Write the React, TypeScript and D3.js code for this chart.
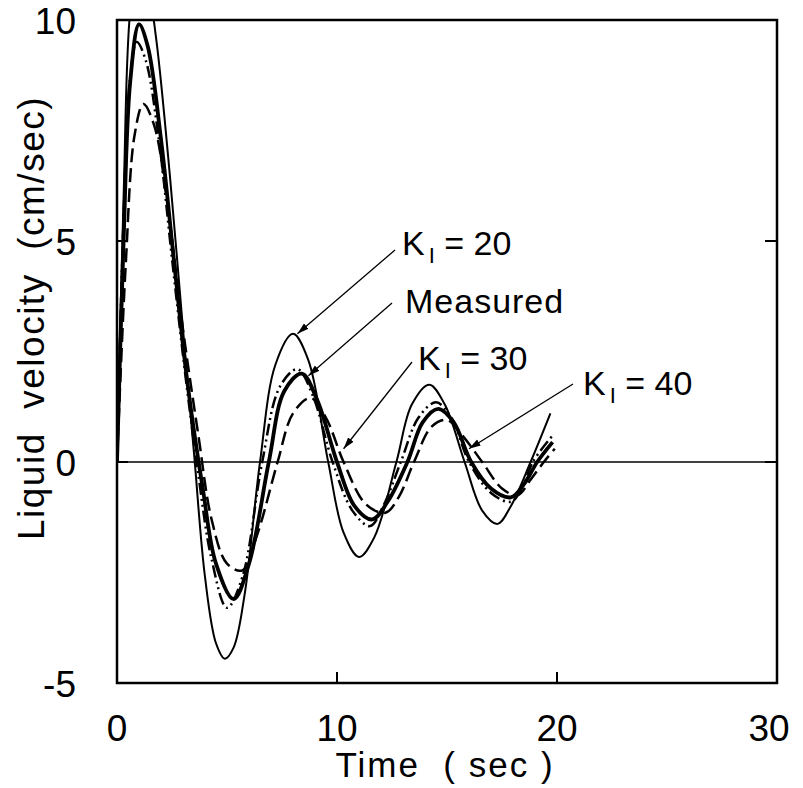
import React from 'react';
import * as d3 from 'd3';

// values (time in sec, velocity in cm/sec)
const tMeasured = [0, 0.3, 0.6, 1.0, 1.4, 2.0, 2.6, 3.2, 3.9, 4.5, 5.3, 6.0, 6.9, 7.6, 8.4, 9.1, 10.0, 10.8, 11.6, 12.3, 13.2, 13.9, 14.6, 15.3, 16.1, 17.0, 17.9, 18.5, 19.1, 19.8];
const vMeasured = [0, 5.0, 8.6, 9.9, 9.4, 7.3, 4.5, 1.8, -0.6, -2.3, -3.1, -2.3, 0, 1.6, 2.0, 1.4, 0, -1.0, -1.3, -0.9, 0, 0.9, 1.2, 0.9, 0, -0.6, -0.8, -0.5, 0, 0.45];

const tK20 = [0, 0.3, 0.6, 1.0, 1.4, 1.8, 2.4, 3.0, 3.5, 4.0, 4.5, 4.9, 5.3, 5.8, 6.5, 7.2, 8.0, 8.7, 9.6, 10.3, 11.0, 11.7, 12.7, 13.4, 14.2, 14.9, 15.8, 16.6, 17.3, 17.9, 18.8, 19.7];
const vK20 = [0, 6.0, 10.2, 11.4, 10.8, 9.5, 6.5, 3.0, 0.2, -2.6, -4.1, -4.45, -4.2, -3.0, 0, 2.2, 2.9, 2.3, 0, -1.6, -2.15, -1.7, 0, 1.3, 1.75, 1.3, 0, -1.1, -1.4, -1.0, 0, 1.1];

const tK30 = [0, 0.3, 0.6, 0.9, 1.3, 1.9, 2.5, 3.1, 3.7, 4.3, 5.0, 5.7, 6.6, 7.4, 8.2, 8.9, 9.8, 10.7, 11.5, 12.1, 12.9, 13.7, 14.5, 15.2, 16.0, 17.0, 17.9, 18.4, 18.9, 19.8];
const vK30 = [0, 5.5, 8.7, 9.5, 9.1, 7.3, 4.6, 2.0, -0.3, -2.2, -3.3, -2.6, 0, 1.7, 2.1, 1.5, 0, -1.1, -1.45, -1.0, 0, 1.0, 1.35, 1.0, 0, -0.7, -0.9, -0.6, 0, 0.6];

const tK40 = [0, 0.4, 0.8, 1.2, 1.7, 2.3, 3.0, 3.7, 4.3, 5.0, 5.7, 6.4, 7.3, 8.0, 8.8, 9.5, 10.3, 11.3, 12.2, 12.8, 13.5, 14.3, 15.0, 15.7, 16.6, 17.5, 18.2, 18.8, 19.4, 19.9];
const vK40 = [0, 4.5, 7.4, 8.1, 7.6, 5.8, 3.0, 0.6, -1.3, -2.3, -2.45, -1.6, 0, 1.1, 1.45, 1.0, 0, -0.95, -1.15, -0.8, 0, 0.8, 0.95, 0.6, 0, -0.6, -0.75, -0.4, 0, 0.3];

const xTicks = [0, 10, 20, 30];
const yTicks = [-5, 0, 5, 10];

const W = 803;
const H = 788;
const FONT = '"Liberation Sans", Arial, sans-serif';

const x = d3.scaleLinear().domain([0, 30]).range([117, 777]);
const y = d3.scaleLinear().domain([-5, 10]).range([683, 20]);

const zip = (ts: number[], vs: number[]) => ts.map((t, i) => [t, vs[i]] as [number, number]);

const line = d3.line<[number, number]>()
  .x((d) => x(d[0]))
  .y((d) => y(d[1]))
  .curve(d3.curveCatmullRom.alpha(0.5));

const series = [
  { key: 'k20', data: zip(tK20, vK20), width: 2, dash: null },
  { key: 'k40', data: zip(tK40, vK40), width: 2.5, dash: '14 6' },
  { key: 'k30', data: zip(tK30, vK30), width: 2.5, dash: '12 4 2 4 2 4' },
  { key: 'meas', data: zip(tMeasured, vMeasured), width: 3.8, dash: null },
];

// annotation labels, leader from label to a point on the curve
const notes = [
  { sub: '20', tx: 402, ty: 255, from: [395, 250], to: [x(8.2), y(2.9)] },
  { sub: null, tx: 405, ty: 313, from: [392, 303], to: [x(8.7), y(1.95)] },
  { sub: '30', tx: 418, ty: 370, from: [412, 362], to: [x(10.3), y(0.3)] },
  { sub: '40', tx: 583, ty: 395, from: [573, 384], to: [x(16.0), y(0.3)] },
];

export default function App() {
  const [x0, x1] = x.range();
  const [y0, y1] = y.range();
  return (
    <svg width={W} height={H} style={{ position: 'absolute', left: 0, top: 0, background: '#fff' }}>
      <defs>
        <clipPath id="plot">
          <rect x={x0} y={y1} width={x1 - x0} height={y0 - y1} />
        </clipPath>
        <marker id="arr" viewBox="0 0 10 10" refX="10" refY="5" markerWidth="9" markerHeight="9" orient="auto">
          <path d="M0,2 L10,5 L0,8 Z" fill="#000" />
        </marker>
      </defs>

      {/* zero line */}
      <line x1={x0} x2={x1} y1={y(0)} y2={y(0)} stroke="#000" strokeWidth={1.6} />

      <g clipPath="url(#plot)" fill="none" stroke="#000" strokeLinejoin="round">
        {series.map((s) => (
          <path key={s.key} d={line(s.data) || ''} strokeWidth={s.width}
            strokeDasharray={s.dash || undefined} />
        ))}
      </g>

      {/* frame */}
      <rect x={x0} y={y1} width={x1 - x0} height={y0 - y1} fill="none" stroke="#000" strokeWidth={2.5} />

      {/* inward ticks */}
      {xTicks.slice(1, -1).map((t) => (
        <line key={'xt' + t} x1={x(t)} x2={x(t)} y1={y0} y2={y0 - 11} stroke="#000" strokeWidth={2} />
      ))}
      {yTicks.slice(1, -1).map((t) => (
        <g key={'yt' + t}>
          <line x1={x0} x2={x0 + 11} y1={y(t)} y2={y(t)} stroke="#000" strokeWidth={2} />
          <line x1={x1} x2={x1 - 12} y1={y(t)} y2={y(t)} stroke="#000" strokeWidth={2} />
        </g>
      ))}

      {/* tick labels */}
      <g fontFamily={FONT} fontSize={37} fill="#000">
        {xTicks.map((t) => (
          <text key={'xl' + t} x={x(t) - (t === 30 ? 8 : 0)} y={741} textAnchor="middle">{t}</text>
        ))}
        {yTicks.map((t) => (
          <text key={'yl' + t} x={76} y={y(t) + 14} textAnchor="end">{t}</text>
        ))}
      </g>

      {/* axis titles */}
      <text x={445} y={777} textAnchor="middle" fontFamily={FONT} fontSize={35} letterSpacing={2}
        style={{ whiteSpace: 'pre' }}>{'Time  ( sec )'}</text>
      <text transform={`translate(44,318) rotate(-90)`} textAnchor="middle" fontFamily={FONT}
        fontSize={37} letterSpacing={1.5} style={{ whiteSpace: 'pre' }}>{'Liquid  velocity  (cm/sec)'}</text>

      {/* annotations */}
      {notes.map((n, i) => (
        <g key={'n' + i}>
          <line x1={n.from[0]} y1={n.from[1]} x2={n.to[0]} y2={n.to[1]} stroke="#000" strokeWidth={1.3}
            markerEnd="url(#arr)" />
          {n.sub ? (
            <text x={n.tx} y={n.ty} fontFamily={FONT} fontSize={34} style={{ whiteSpace: 'pre' }}>
              K<tspan fontSize={22} dx={4} dy={8}>I</tspan><tspan dy={-8}>{' = ' + n.sub}</tspan>
            </text>
          ) : (
            <text x={n.tx} y={n.ty} fontFamily={FONT} fontSize={34} letterSpacing={1}>Measured</text>
          )}
        </g>
      ))}
    </svg>
  );
}
